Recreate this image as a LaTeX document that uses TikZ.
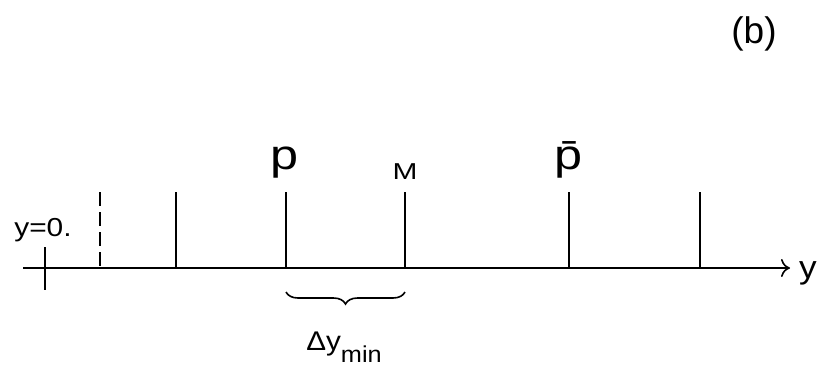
\documentclass[tikz,border=0pt]{standalone}
\usepackage{fontspec}
\setmainfont{Liberation Sans}
\usetikzlibrary{decorations.pathreplacing,arrows.meta}
\newcommand{\fs}[1]{\fontsize{#1}{#1}\selectfont}
\newcommand{\wide}[2]{\scalebox{#1}[1]{#2}}
\begin{document}
\begin{tikzpicture}[x=1pt,y=-1pt,
  ln/.style={line width=1.6pt},
  lbl/.style={inner sep=0pt,anchor=base}]
\useasboundingbox (0,0) rectangle (819,368);
% axis
\coordinate (a0) at (23,268);
\coordinate (a1) at (790,268);
\draw[ln,-{To[length=9pt,width=18pt]}] (a0) -- (a1);
\node[lbl,font=\fs{32}] (ylab) at (808,278) {\wide{1.1}{y}};
% origin tick
\coordinate (t0a) at (45,247); \coordinate (t0b) at (45,290);
\draw[ln] (t0a) -- (t0b);
\node[lbl,font=\fs{26}] (y0) at (43,236) {\wide{1.15}{y=0.}};
% dashed
\coordinate (d0a) at (100,192); \coordinate (d0b) at (100,268);
\draw[ln,dash pattern=on 14pt off 6pt] (d0a) -- (d0b);
% solid verticals
\foreach \n/\x in {v1/176,v2/286,v3/405,v4/569,v5/700}{
  \coordinate (\n a) at (\x,192); \coordinate (\n b) at (\x,268);
  \draw[ln] (\n a) -- (\n b);
}
\node[lbl,font=\fs{42}] (p) at (285,169) {\wide{1.2}{p}};
\node[lbl,font=\fs{23}] (M) at (405,179) {\wide{1.3}{M}};
\node[lbl,font=\fs{42}] (pb) at (569,169) {\wide{1.2}{\={p}}};
\node[lbl,font=\fs{37}] (b) at (754,43) {(b)};
% brace
\coordinate (b0) at (286,292); \coordinate (b1) at (405,292);
\draw[ln,decorate,decoration={brace,mirror,amplitude=12pt}] (b0) -- (b1);
\node[lbl,font=\fs{27}] (dy) at (344,350) {\wide{1.1}{Δy}\raisebox{-12pt}{\fs{23}\wide{1.1}{min}}};
\end{tikzpicture}
\end{document}
